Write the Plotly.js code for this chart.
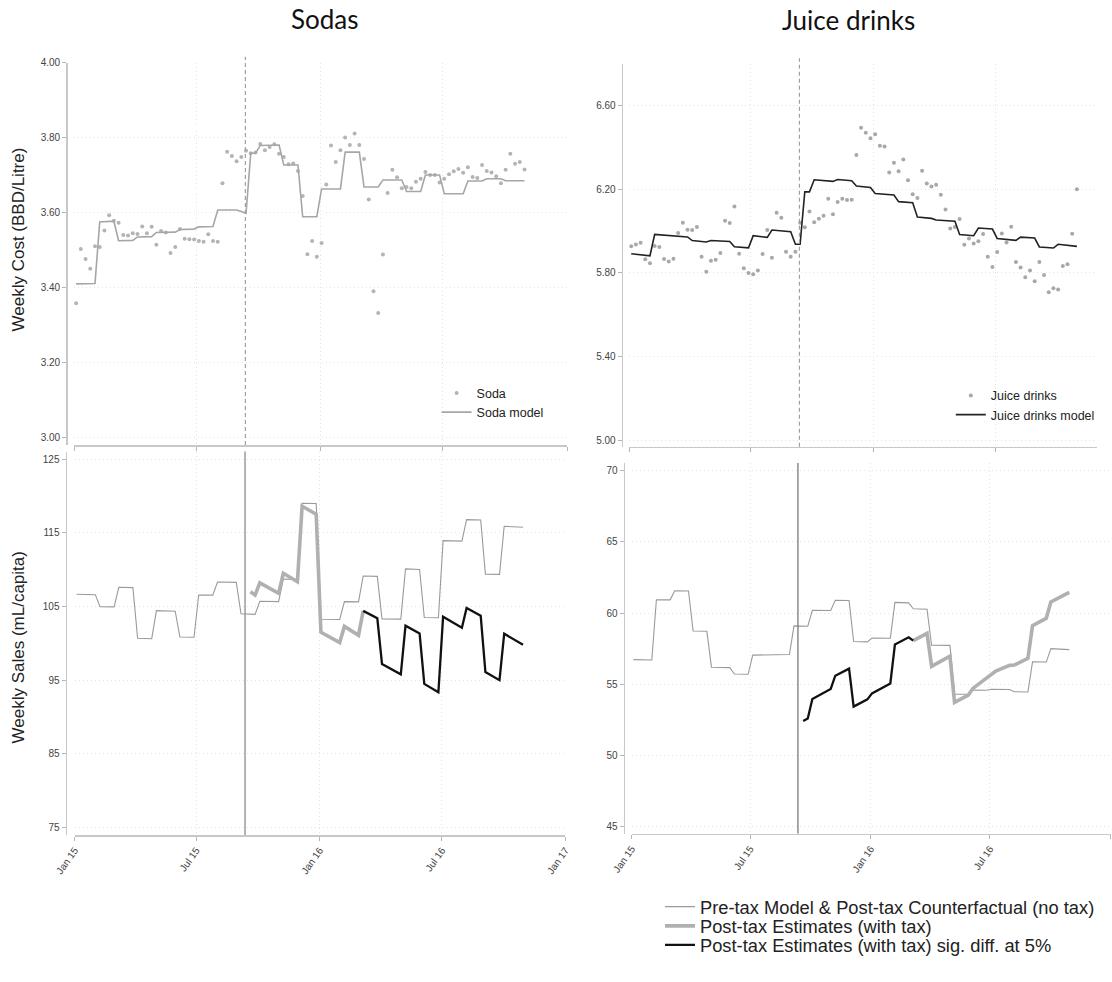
<!DOCTYPE html>
<html>
<head>
<meta charset="utf-8">
<script src="https://cdn.plot.ly/plotly-3.0.1.min.js"></script>
<style>html,body{margin:0;padding:0;background:#fff;}#chart{width:1112px;height:982px;}</style>
</head>
<body>
<div id="chart"></div>
<script>
// ---------- DATA ----------
const firstWeek = '2015-01-04';
const nWeeks = 96;
const taxDate = '2015-09-12';
const postStart = 37;      // first post-tax week index
const sodaSigStart = 61;   // soda: significant from this week on
const juiceSigEnd = 61;    // juice: significant up to this week

const xTickVals = ['2015-01-01', '2015-07-01', '2016-01-01', '2016-07-01', '2017-01-01'];

// Weekly cost, sodas (BBD/Litre)
const sodaPrice = [3.358,3.503,3.476,3.450,3.510,3.508,3.552,3.593,3.578,3.573,
 3.540,3.539,3.545,3.543,3.563,3.545,3.562,3.514,3.551,3.547,
 3.492,3.508,3.556,3.530,3.529,3.528,3.524,3.522,3.542,3.524,
 3.522,3.678,3.762,3.751,3.737,3.748,3.765,3.758,3.760,3.783,
 3.766,3.775,3.782,3.757,3.748,3.729,3.731,3.711,3.644,3.489,
 3.524,3.482,3.519,3.675,3.779,3.735,3.766,3.800,3.780,3.811,
 3.780,3.743,3.635,3.390,3.332,3.488,3.652,3.714,3.694,3.665,
 3.668,3.665,3.682,3.690,3.708,3.700,3.700,3.680,3.690,3.702,
 3.710,3.716,3.706,3.721,3.695,3.692,3.727,3.711,3.707,3.697,
 3.678,3.714,3.757,3.730,3.735,3.715];
const sodaModel = [3.410,3.410,3.410,3.411,3.411, 3.575,3.575,3.576,3.577, 3.525,3.525,3.525,3.526,
 3.535,3.535,3.535,3.536, 3.547,3.547,3.547,3.548,3.548, 3.555,3.555,3.555,3.556, 3.562,3.562,3.563,3.563,
 3.607,3.607,3.607,3.607,3.607, 3.603,3.598, 3.758,3.758, 3.779,3.779,3.780,3.780,3.780,
 3.727,3.727,3.727,3.727, 3.589,3.589,3.589,3.589, 3.663,3.663,3.663,3.663,3.663,
 3.761,3.761,3.761,3.761, 3.668,3.668,3.668,3.668, 3.687,3.687,3.687,3.687,3.687,
 3.656,3.656,3.656,3.656, 3.700,3.700,3.700,3.700, 3.650,3.650,3.650,3.650,3.650,
 3.684,3.684,3.684,3.684, 3.690,3.690,3.690,3.690, 3.685,3.685,3.685,3.685,3.685];

// Weekly cost, juice drinks (BBD/Litre)
const juicePrice = [5.927,5.936,5.944,5.865,5.846,5.929,5.924,5.866,5.855,5.868,
 5.991,6.040,6.007,6.005,6.020,5.877,5.806,5.858,5.863,5.895,
 6.050,6.039,6.118,5.892,5.822,5.800,5.793,5.812,5.890,6.005,
 5.873,6.088,6.064,5.901,5.877,5.901,6.040,6.018,6.094,6.043,
 6.059,6.073,6.155,6.081,6.139,6.155,6.149,6.150,6.364,6.495,
 6.471,6.444,6.464,6.409,6.405,6.281,6.327,6.286,6.343,6.244,
 6.177,6.158,6.289,6.228,6.214,6.222,6.174,6.104,6.013,6.020,
 6.058,5.935,5.965,5.941,5.951,5.986,5.877,5.828,5.900,5.989,
 5.946,6.021,5.852,5.826,5.779,5.812,5.760,5.852,5.790,5.707,
 5.726,5.721,5.833,5.841,5.987,6.200];
const juiceModel = [5.892,5.890,5.887,5.885,5.882, 5.984,5.982,5.980,5.978, 5.976,5.975,5.974,5.972,
 5.955,5.952,5.950,5.948, 5.955,5.954,5.953,5.951,5.950, 5.925,5.923,5.921,5.920, 5.978,5.975,5.972,5.970,
 6.005,6.003,6.000,5.998,5.997, 5.937,5.937, 6.188,6.188, 6.246,6.244,6.242,6.240,6.238,
 6.247,6.245,6.243,6.241, 6.216,6.213,6.211,6.209, 6.180,6.178,6.176,6.174,6.173,
 6.141,6.139,6.137,6.136, 6.067,6.065,6.063,6.061, 6.053,6.051,6.050,6.048,6.047,
 5.984,5.981,5.979,5.978, 6.015,6.013,6.012,6.010, 5.965,5.962,5.960,5.958,5.956,
 5.971,5.970,5.969,5.967, 5.924,5.922,5.921,5.919, 5.937,5.935,5.933,5.930,5.927];

// Weekly sales, sodas (mL/capita)
const sodaNoTax = [106.65,106.64,106.63,106.62,106.60, 104.97,104.96,104.95,104.94, 107.60,107.59,107.58,107.56,
 100.68,100.67,100.65,100.63, 104.43,104.41,104.39,104.37,104.35, 100.86,100.85,100.84,100.82,
 106.56,106.55,106.55,106.54, 108.32,108.31,108.30,108.29,108.27, 104.00,103.98,103.96,103.93,
 105.70,105.69,105.68,105.67,105.66, 108.72,108.70,108.69,108.67, 119.00,118.99,118.98,118.97,
 103.27,103.26,103.25,103.24,103.23, 105.66,105.65,105.64,105.63, 109.13,109.12,109.10,109.08,
 103.32,103.31,103.30,103.29,103.28, 110.10,110.08,110.05,110.02, 103.50,103.49,103.48,103.47,
 113.93,113.92,113.90,113.88,113.86, 116.78,116.76,116.75,116.73, 109.38,109.37,109.36,109.35,
 115.88,115.85,115.82,115.78,115.75];
const sodaWithTax = [107.00,106.55,
 108.20,107.85,107.50,107.10,106.78, 109.50,109.10,108.70,108.35, 118.60,118.20,117.85,117.50,
 101.50,101.15,100.80,100.45,100.10, 102.30,101.90,101.50,101.10, 104.40,104.07,103.73,103.40,
 97.20,96.85,96.50,96.15,95.80, 102.40,102.05,101.70,101.35, 94.50,94.15,93.75,93.35,
 103.60,103.20,102.85,102.50,102.10, 104.80,104.45,104.10,103.75, 96.10,95.70,95.35,95.00,
 101.30,100.90,100.55,100.15,99.80];

// Weekly sales, juice drinks (mL/capita)
const juiceNoTax = [56.73,56.73,56.72,56.72,56.71, 60.94,60.94,60.93,60.93, 61.57,61.57,61.56,61.55,
 58.74,58.74,58.73,58.72, 56.20,56.19,56.19,56.18,56.17, 55.72,55.71,55.70,55.70,
 57.05,57.05,57.06,57.06, 57.10,57.10,57.10,57.09,57.09, 59.10,59.10,59.09,59.08,
 60.20,60.20,60.19,60.19,60.18, 60.90,60.90,60.89,60.88, 58.00,58.00,57.99,57.98,
 58.25,58.25,58.24,58.24,58.23, 60.75,60.74,60.73,60.72, 60.30,60.29,60.28,60.27,
 57.75,57.75,57.74,57.74,57.73, 54.30,54.30,54.30,54.30, 54.60,54.60,54.59,54.58,
 54.65,54.65,54.64,54.64,54.63, 54.48,54.48,54.47,54.46, 56.57,56.57,56.56,56.56,
 57.50,57.49,57.47,57.45,57.43];
const juiceWithTax = [52.42,52.60,
 53.96,54.15,54.35,54.52,54.67, 55.60,55.77,55.95,56.10, 53.43,53.60,53.77,53.94,
 54.36,54.53,54.71,54.89,55.06, 57.80,57.97,58.13,58.30, 58.06,58.23,58.40,58.58,
 56.26,56.44,56.62,56.80,56.98, 53.73,53.90,54.07,54.24, 54.71,54.95,55.18,55.42,
 55.65,55.93,56.07,56.20,56.33, 56.35,56.50,56.66,56.82, 59.11,59.28,59.46,59.63,
 60.78,60.95,61.12,61.30,61.45];

// ---------- BUILD ----------
function weekDates(start, n) {
  const out = [];
  const d0 = new Date(start + 'T00:00:00Z');
  for (let i = 0; i < n; i++) {
    const d = new Date(d0.getTime() + i * 7 * 86400000);
    out.push(d.toISOString().slice(0, 10));
  }
  return out;
}
const weeks = weekDates(firstWeek, nWeeks);
const postWeeks = weeks.slice(postStart);

const thinCol = '#9a9a9a', thickCol = '#b0b0b0', sigCol = '#111111';

const sodaSplit = sodaSigStart - postStart;
const juiceSplit = juiceSigEnd - postStart;

const traces = [
  // top-left
  {x: weeks, y: sodaPrice, type: 'scatter', mode: 'markers', name: 'Soda',
   marker: {size: 4, color: '#b4b4b4'}, xaxis: 'x', yaxis: 'y', legend: 'legend'},
  {x: weeks, y: sodaModel, type: 'scatter', mode: 'lines', name: 'Soda model',
   line: {color: '#a6a6a6', width: 1.6}, xaxis: 'x', yaxis: 'y', legend: 'legend'},
  // top-right
  {x: weeks, y: juicePrice, type: 'scatter', mode: 'markers', name: 'Juice drinks',
   marker: {size: 4, color: '#a8a8a8'}, xaxis: 'x2', yaxis: 'y2', legend: 'legend2'},
  {x: weeks, y: juiceModel, type: 'scatter', mode: 'lines', name: 'Juice drinks model',
   line: {color: '#222222', width: 1.6}, xaxis: 'x2', yaxis: 'y2', legend: 'legend2'},
  // bottom-left
  {x: weeks, y: sodaNoTax, type: 'scatter', mode: 'lines', name: 'Pre-tax Model &amp; Post-tax Counterfactual (no tax)',
   line: {color: thinCol, width: 1.1}, xaxis: 'x3', yaxis: 'y3', legend: 'legend3'},
  {x: postWeeks.slice(0, sodaSplit + 1), y: sodaWithTax.slice(0, sodaSplit + 1), type: 'scatter', mode: 'lines',
   name: 'Post-tax Estimates (with tax)', line: {color: thickCol, width: 3.6}, xaxis: 'x3', yaxis: 'y3', legend: 'legend4'},
  {x: postWeeks.slice(sodaSplit), y: sodaWithTax.slice(sodaSplit), type: 'scatter', mode: 'lines',
   name: 'Post-tax Estimates (with tax) sig. diff. at 5%', line: {color: sigCol, width: 2.3}, xaxis: 'x3', yaxis: 'y3', legend: 'legend5'},
  // bottom-right
  {x: weeks, y: juiceNoTax, type: 'scatter', mode: 'lines', showlegend: false,
   line: {color: thinCol, width: 1.1}, xaxis: 'x4', yaxis: 'y4'},
  {x: postWeeks.slice(juiceSplit), y: juiceWithTax.slice(juiceSplit), type: 'scatter', mode: 'lines', showlegend: false,
   line: {color: thickCol, width: 3.6}, xaxis: 'x4', yaxis: 'y4'},
  {x: postWeeks.slice(0, juiceSplit + 1), y: juiceWithTax.slice(0, juiceSplit + 1), type: 'scatter', mode: 'lines', showlegend: false,
   line: {color: sigCol, width: 2.3}, xaxis: 'x4', yaxis: 'y4'}
];

const W = 1112, H = 982;
const px = v => v / W;
const py = v => 1 - v / H;

const tickFont = {family: 'Liberation Sans, Arial, sans-serif', size: 10, color: '#444'};
const gridCol = '#e4e4e4';
function xAx(dom, yId, range, labels) {
  return {
    domain: dom, anchor: yId, type: 'date', range: range,
    tickvals: xTickVals, tickformat: '%b %y', showticklabels: labels, tickangle: -55,
    ticks: 'outside', ticklen: 4, tickcolor: '#b5b5b5', tickwidth: 1,
    showline: true, linecolor: '#c8c8c8', linewidth: 1.5,
    showgrid: true, gridcolor: gridCol, griddash: '1px,3px', gridwidth: 1,
    zeroline: false, tickfont: tickFont, fixedrange: true
  };
}
function yAx(dom, pos, range, vals, fmt) {
  return {
    domain: dom, anchor: 'free', position: pos, range: range,
    tickvals: vals, tickformat: fmt,
    ticks: 'outside', ticklen: 4, tickcolor: '#b5b5b5', tickwidth: 1,
    showline: true, linecolor: '#c8c8c8', linewidth: 1.5,
    showgrid: true, gridcolor: gridCol, griddash: '1px,3px', gridwidth: 1,
    zeroline: false, tickfont: tickFont, fixedrange: true
  };
}

function legendAt(xText, yCenter, size) {
  return {x: px(xText - 40), y: py(yCenter), xanchor: 'left', yanchor: 'middle',
    bgcolor: 'rgba(0,0,0,0)', borderwidth: 0,
    font: {family: 'Liberation Sans, Arial, sans-serif', size: size, color: '#222'}};
}

const layout = {
  width: W, height: H,
  margin: {l: 0, r: 0, t: 0, b: 0},
  paper_bgcolor: '#ffffff', plot_bgcolor: '#ffffff',
  font: {family: 'Liberation Sans, Arial, sans-serif', color: '#333'},
  xaxis:  xAx([px(74.1), px(567)], 'y', ['2015-01-01', '2017-01-01'], false),
  yaxis:  yAx([py(445), py(62.5)], px(66.2), [2.9805, 4.0], [3.0, 3.2, 3.4, 3.6, 3.8, 4.0], '.2f'),
  xaxis2: xAx([px(629.2), px(1097)], 'y2', ['2015-01-01', '2016-11-29'], false),
  yaxis2: yAx([py(446.7), py(64)], px(621.7), [4.968, 6.80], [5.0, 5.4, 5.8, 6.2, 6.6], '.2f'),
  xaxis3: xAx([px(74.5), px(565.3)], 'y3', ['2015-01-01', '2017-01-01'], true),
  yaxis3: yAx([py(835), py(451.5)], px(65.5), [74.0, 126.02], [75, 85, 95, 105, 115, 125], 'd'),
  xaxis4: xAx([px(631.5), px(1110.5)], 'y4', ['2015-01-01', '2017-01-01'], true),
  yaxis4: yAx([py(833.5), py(463)], px(623.5), [44.52, 70.54], [45, 50, 55, 60, 65, 70], 'd'),
  legend:  Object.assign(legendAt(476.6, 402.8, 12.5), {traceorder: 'normal'}),
  legend2: Object.assign(legendAt(990.8, 405.3, 12.5), {traceorder: 'normal'}),
  legend3: legendAt(700, 906.7, 18.3),
  legend4: legendAt(700, 926, 18.3),
  legend5: legendAt(700, 945, 18.3),
  shapes: [
    {type: 'line', xref: 'x', yref: 'y domain', x0: taxDate, x1: taxDate, y0: 0, y1: 1.015,
     line: {color: '#a0a0a0', width: 1.2, dash: '4px,3px'}},
    {type: 'line', xref: 'x2', yref: 'y2 domain', x0: taxDate, x1: taxDate, y0: 0, y1: 1.015,
     line: {color: '#a0a0a0', width: 1.2, dash: '4px,3px'}},
    {type: 'line', xref: 'x3', yref: 'y3 domain', x0: taxDate, x1: taxDate, y0: 0, y1: 1,
     line: {color: '#8c8c8c', width: 1.3}},
    {type: 'line', xref: 'x4', yref: 'y4 domain', x0: taxDate, x1: taxDate, y0: 0, y1: 1,
     line: {color: '#7a7a7a', width: 1.3}}
  ],
  annotations: [
    {text: 'Sodas', xref: 'paper', yref: 'paper', x: px(325), y: py(19), xanchor: 'center', yanchor: 'middle',
     showarrow: false, font: {family: 'Lato, Open Sans, sans-serif', size: 26, color: '#111'}},
    {text: 'Juice drinks', xref: 'paper', yref: 'paper', x: px(848), y: py(20), xanchor: 'center', yanchor: 'middle',
     showarrow: false, font: {family: 'Lato, Open Sans, sans-serif', size: 26, color: '#111'}},
    {text: 'Weekly Cost (BBD/Litre)', xref: 'paper', yref: 'paper', x: px(17.5), y: py(240), textangle: -90,
     xanchor: 'center', yanchor: 'middle', showarrow: false,
     font: {family: 'Liberation Sans, Arial, sans-serif', size: 17, color: '#222'}},
    {text: 'Weekly Sales (mL/capita)', xref: 'paper', yref: 'paper', x: px(17.5), y: py(648), textangle: -90,
     xanchor: 'center', yanchor: 'middle', showarrow: false,
     font: {family: 'Liberation Sans, Arial, sans-serif', size: 17, color: '#222'}}
  ]
};

Plotly.newPlot('chart', traces, layout, {displayModeBar: false, staticPlot: true});
</script>
</body>
</html>
